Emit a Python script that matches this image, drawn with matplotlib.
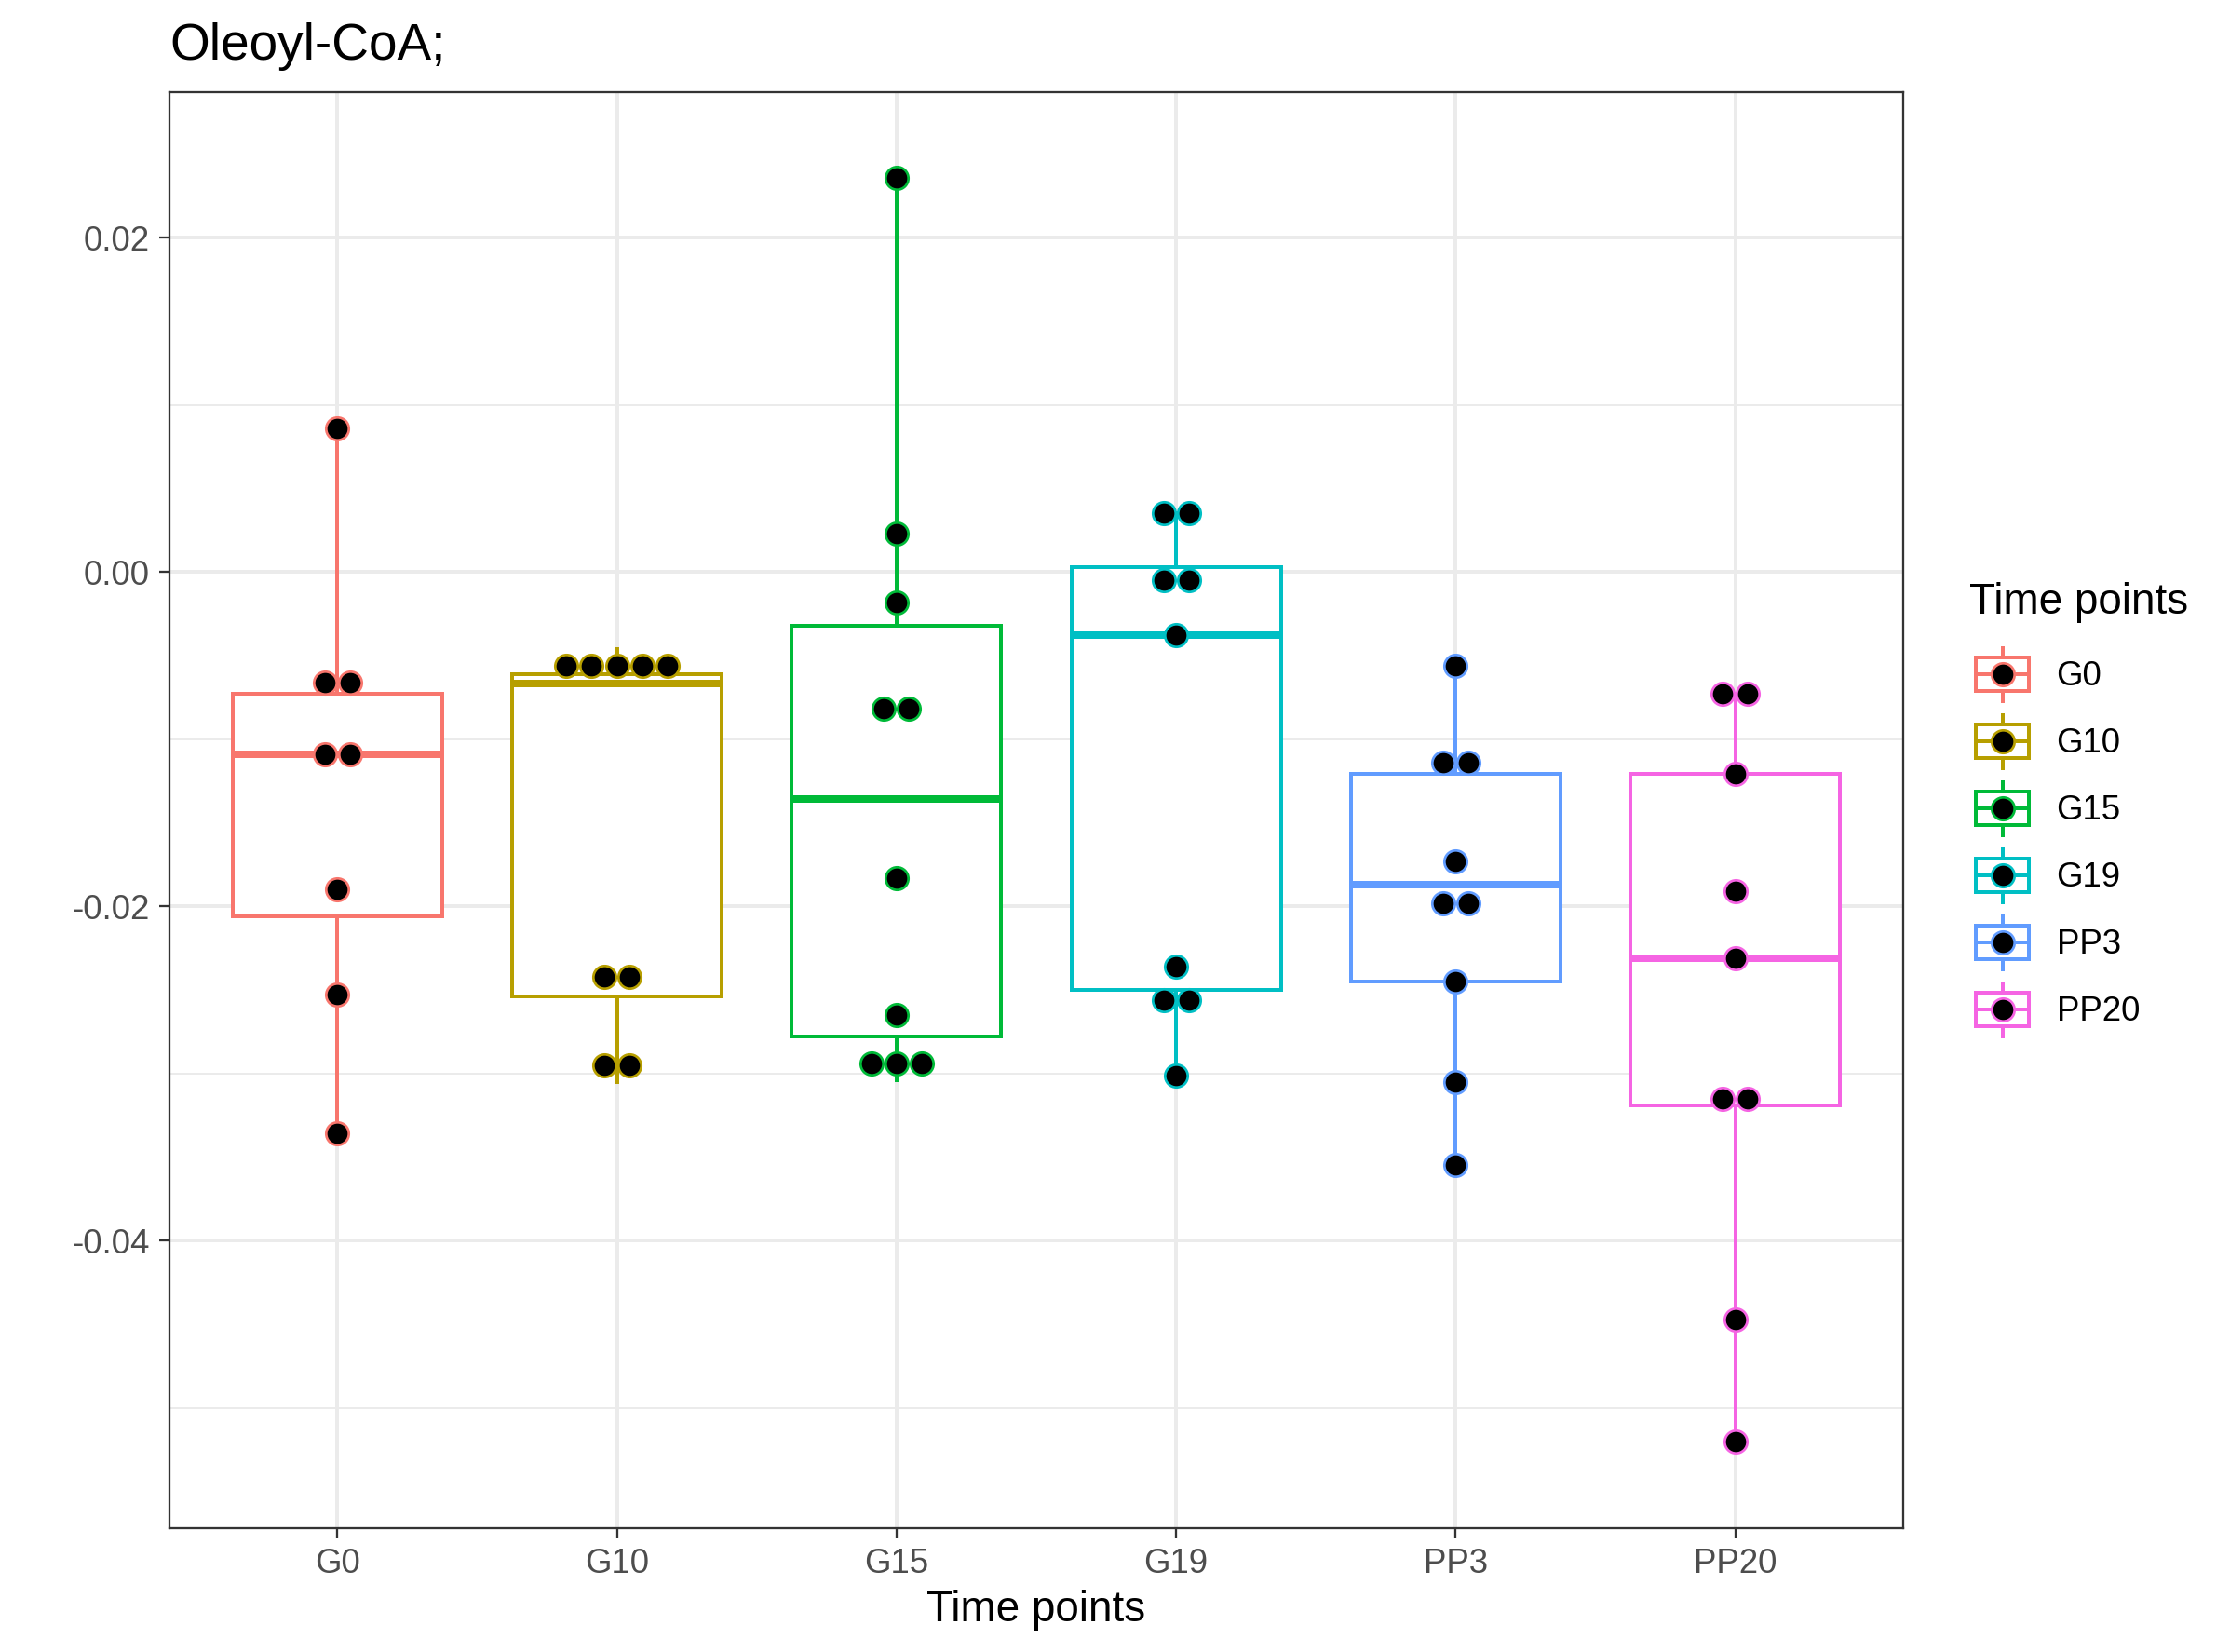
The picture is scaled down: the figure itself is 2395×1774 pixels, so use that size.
import matplotlib
matplotlib.use('Agg')
import matplotlib.pyplot as plt
import numpy as np
from matplotlib.patches import Rectangle, Patch
from matplotlib.lines import Line2D
from matplotlib.legend_handler import HandlerBase

plt.rcParams['font.family'] = ['Liberation Sans', 'DejaVu Sans']

# ---------------- data ----------------
categories = ['G0', 'G10', 'G15', 'G19', 'PP3', 'PP20']
colors = ['#F8766D', '#B79F00', '#00BA38', '#00BFC4', '#619CFF', '#F564E3']

# dot positions (dotplot bin centres), one list per time point
dots_G0 = [0.0086, -0.0066, -0.0066, -0.0109, -0.0109, -0.0190, -0.0253, -0.0336]
dots_G10 = [-0.0056, -0.0056, -0.0056, -0.0056, -0.0056, -0.0242, -0.0242, -0.0295, -0.0295]
dots_G15 = [0.0236, 0.0023, -0.0018, -0.0082, -0.0082, -0.0183, -0.0265, -0.0294, -0.0294, -0.0294]
dots_G19 = [0.0035, 0.0035, -0.0005, -0.0005, -0.0038, -0.0236, -0.0256, -0.0256, -0.0301]
dots_PP3 = [-0.0056, -0.0114, -0.0114, -0.0173, -0.0198, -0.0198, -0.0245, -0.0305, -0.0355]
dots_PP20 = [-0.0073, -0.0073, -0.0121, -0.0191, -0.0231, -0.0315, -0.0315, -0.0447, -0.0520]
dots = [dots_G0, dots_G10, dots_G15, dots_G19, dots_PP3, dots_PP20]

# box statistics
box_whislo = [-0.0336, -0.0305, -0.0304, -0.0301, -0.0355, -0.0520]
box_q1 = [-0.0206, -0.0254, -0.0278, -0.0250, -0.0245, -0.0319]
box_med = [-0.0109, -0.0067, -0.0136, -0.0038, -0.0187, -0.0231]
box_q3 = [-0.0073, -0.0061, -0.0032, 0.0003, -0.0121, -0.0121]
box_whishi = [0.0086, -0.0046, 0.0236, 0.0035, -0.0056, -0.0073]

title = 'Oleoyl-CoA;'
xlabel = 'Time points'
legend_title = 'Time points'
yticks = [-0.04, -0.02, 0.00, 0.02]
ytick_labels = ['-0.04', '-0.02', '0.00', '0.02']
yminor = [-0.05, -0.03, -0.01, 0.01]

# ---------------- style ----------------
W, H, DPI = 2395, 1774, 300
L, R, T, B = 182, 2044, 99, 1641
BOX_LW = 0.96
MED_LW = 1.92
DOT_MS = 5.85
DOT_MEW = 0.65
DOT_DX = 0.09
GRID = '#EBEBEB'

fig = plt.figure(figsize=(W / DPI, H / DPI), dpi=DPI)
ax = fig.add_axes([L / W, 1 - B / H, (R - L) / W, (B - T) / H])
ax.set_xlim(0.4, 6.6)
ax.set_ylim(-0.0572, 0.0287)

positions = np.arange(1, len(categories) + 1)

ax.set_yticks(yticks, ytick_labels)
ax.set_yticks(yminor, minor=True)
ax.set_xticks(positions, categories)
ax.grid(which='major', color=GRID, lw=0.96)
ax.grid(which='minor', axis='y', color=GRID, lw=0.48)
ax.set_axisbelow(True)

for s in ax.spines.values():
    s.set_color('#333333')
    s.set_linewidth(0.55)
ax.tick_params(which='major', length=2.75, width=0.55, color='#333333',
               labelcolor='#4D4D4D', labelsize=8.8)
ax.tick_params(axis='x', pad=2.3)
ax.tick_params(axis='y', pad=2.4)
ax.tick_params(which='minor', length=0)

stats = [dict(med=m, q1=a, q3=b, whislo=lo, whishi=hi, label=c)
         for m, a, b, lo, hi, c in zip(box_med, box_q1, box_q3, box_whislo, box_whishi, categories)]
bp = ax.bxp(stats, positions=positions, widths=0.75, showfliers=False, showcaps=False,
            patch_artist=True, manage_ticks=False, zorder=2)
for i, c in enumerate(colors):
    bp['boxes'][i].set(facecolor='white', edgecolor=c, linewidth=BOX_LW)
    bp['medians'][i].set(color=c, linewidth=MED_LW, solid_capstyle='butt')
    for w in bp['whiskers'][2 * i:2 * i + 2]:
        w.set(color=c, linewidth=BOX_LW)


def stack(values, dx):
    vals = np.asarray(values)
    xs, ys = [], []
    for v in sorted(set(values), reverse=True):
        k = int(np.sum(np.isclose(vals, v)))
        offs = (np.arange(k) - (k - 1) / 2) * dx
        xs.extend(offs)
        ys.extend([v] * k)
    return np.array(xs), np.array(ys)


for p, vals, c in zip(positions, dots, colors):
    xo, yv = stack(vals, DOT_DX)
    ax.scatter(p + xo, yv, s=DOT_MS ** 2, facecolor='black', edgecolor=c,
               linewidths=DOT_MEW, zorder=3)

ax.set_title(title, loc='left', fontsize=13.2, pad=8.4, color='black')
ax.set_xlabel(xlabel, fontsize=11, va='baseline', color='black')
ax.xaxis.set_label_coords(0.5, (B - 1741) / (B - T))


class BoxDotHandler(HandlerBase):
    def create_artists(self, legend, orig_handle, xdescent, ydescent, width, height,
                       fontsize, trans):
        c = orig_handle.get_edgecolor()
        x0, y0 = -xdescent, -ydescent
        cx, cy = x0 + 0.5 * width, y0 + 0.5 * height
        rect = Rectangle((x0 + 0.1 * width, y0 + 0.25 * height), 0.8 * width, 0.5 * height,
                         facecolor='white', edgecolor=c, lw=BOX_LW, transform=trans)
        w1 = Line2D([cx, cx], [y0 + 0.1 * height, y0 + 0.25 * height], color=c, lw=BOX_LW,
                    transform=trans)
        w2 = Line2D([cx, cx], [y0 + 0.75 * height, y0 + 0.9 * height], color=c, lw=BOX_LW,
                    transform=trans)
        med = Line2D([x0 + 0.1 * width, x0 + 0.9 * width], [cy, cy], color=c, lw=BOX_LW,
                     transform=trans)
        dot = Line2D([cx], [cy], marker='o', ms=DOT_MS, mfc='black', mec=c, mew=DOT_MEW,
                     ls='none', transform=trans)
        return [w1, w2, rect, med, dot]


handles = [Patch(facecolor='white', edgecolor=c, label=cat) for c, cat in zip(colors, categories)]
fs = 8.8
key_px = 72.0
fs_px = fs * DPI / 72
leg = ax.legend(handles=handles, handler_map={Patch: BoxDotHandler()},
                loc='upper left', bbox_to_anchor=(2114.5 / W, 1 - 688.5 / H),
                bbox_transform=fig.transFigure, frameon=False, borderpad=0,
                borderaxespad=0, handlelength=key_px / fs_px, handleheight=2.644,
                labelspacing=0, handletextpad=0.6, fontsize=fs)
fig.text(2115 / W, 1 - 659 / H, legend_title, fontsize=11, va='baseline', ha='left')

fig.savefig('out.png', dpi=DPI)
